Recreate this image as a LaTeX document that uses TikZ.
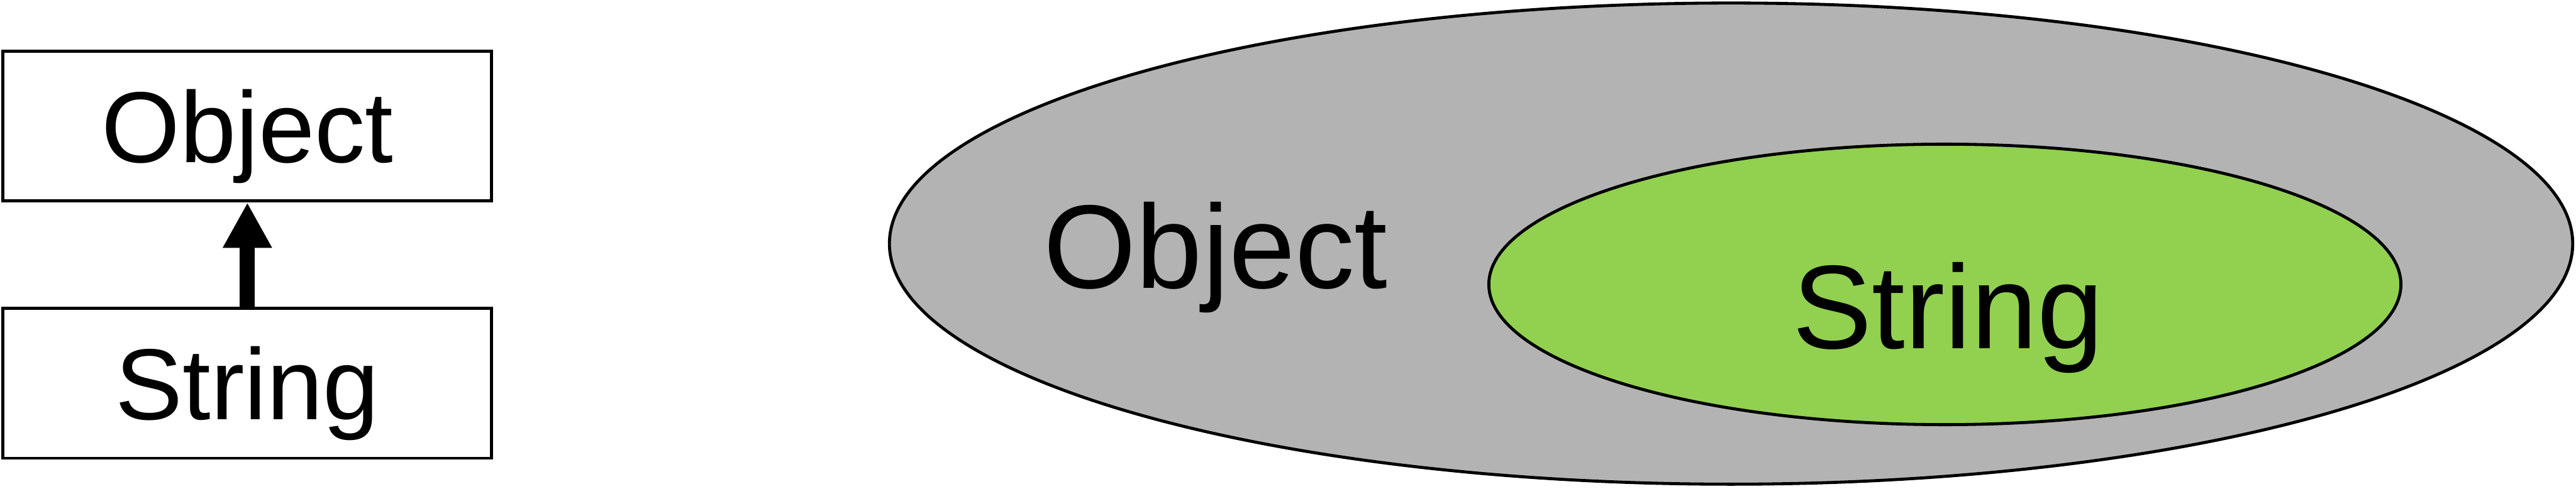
\documentclass[tikz,border=0pt]{standalone}
\usepackage{fontspec}
\setmainfont{Liberation Sans}
\usetikzlibrary{arrows.meta,positioning,shapes.geometric}
\definecolor{ink}{RGB}{0,0,0}
\definecolor{setgray}{RGB}{179,179,179}
\definecolor{setgreen}{RGB}{146,208,80}
\tikzset{
  every picture/.style={color=ink, line width=0.05cm},
  cls/.style={draw=ink, fill=white, minimum width=8.08cm, minimum height=2.48cm,
    font=\fontsize{47.5pt}{52pt}\selectfont, text height=1.2cm, text depth=0pt, inner sep=0pt},
  set/.style={draw=ink, ellipse, inner sep=0pt},
  setlbl/.style={font=\fontsize{56pt}{60pt}\selectfont, text height=1.41cm, text depth=0pt, inner sep=0pt},
  inherit/.style={-{Triangle[length=0.75cm,width=0.76cm]}, line width=0.25cm},
}
\begin{document}
\begin{tikzpicture}
  \useasboundingbox (0,0) rectangle (42.59,8.08);
  % class diagram
  \node[cls] (objbox) at (4.09,5.995) {Object};
  \node[cls] (strbox) at (4.09,1.74) {String};
  \draw[inherit] (strbox) -- (objbox);
  % the same as sets
  \node[set, fill=setgray, minimum width=27.83cm, minimum height=7.96cm] (objset) at (28.62,4.05) {};
  \node[set, fill=setgreen, minimum width=15.08cm, minimum height=4.64cm] (strset) at (32.155,3.375) {};
  \node[setlbl] (objlbl) at (20.10,4.02) {Object};
  \node[setlbl] (strlbl) at (32.21,3.02) {String};
\end{tikzpicture}
\end{document}
